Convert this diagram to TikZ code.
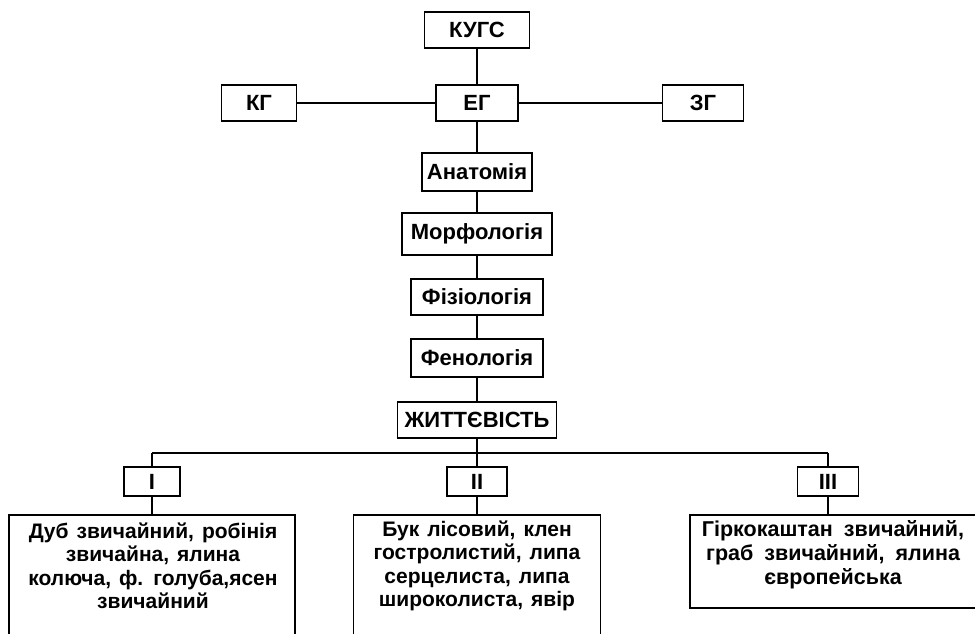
\documentclass[tikz,border=0pt]{standalone}
\usepackage{fontspec}
\setmainfont{Liberation Sans}
\newcommand\mywidesp{\spaceskip=8pt plus 1pt minus 1pt\relax}
\newcommand\mywidersp{\spaceskip=11pt plus 1pt minus 1pt\relax}
\begin{document}
\begin{tikzpicture}[x=1pt,y=-1pt,
  line width=1.7pt,
  box/.style={draw, line width=1.7pt, inner sep=0pt, font=\fontsize{22}{24}\selectfont\bfseries},
  bigbox/.style={draw, line width=1.7pt, inner sep=0pt, anchor=north},
  bigtext/.style={align=center, inner sep=0pt, font=\fontsize{21}{23.5}\selectfont\bfseries\mywidesp},
  conn/.style={line width=1.7pt}]
\clip (0,0) rectangle (975,633);
\fill[white] (0,0) rectangle (975,633);
% top level
\node[box, minimum width=105, minimum height=36] (kugs) at (477,30) {КУГС};
\node[box, minimum width=75, minimum height=36] (kg) at (259,103) {КГ};
\node[box, minimum width=82, minimum height=36] (eg) at (477,103) {ЕГ};
\node[box, minimum width=81, minimum height=36] (zg) at (703,103) {ЗГ};
% column
\node[box, minimum width=110, minimum height=38] (anat) at (477,172) {Анатомія};
\node[box, minimum width=150, minimum height=42] (morf) at (477,234) {Морфологія};
\node[box, minimum width=132, minimum height=36] (fiz) at (477,297) {Фізіологія};
\node[box, minimum width=132, minimum height=38] (fen) at (477,358) {Фенологія};
\node[box, minimum width=159, minimum height=36] (zh) at (477,420) {ЖИТТЄВІСТЬ};
% groups
\coordinate (barL) at (152,453);
\coordinate (barR) at (828,453);
\node[box, minimum width=56, minimum height=29] (r1) at (152,481.5) {I};
\node[box, minimum width=60, minimum height=29] (r2) at (477,481.5) {II};
\node[box, minimum width=61, minimum height=29] (r3) at (828,481.5) {III};
% bottom boxes
\node[bigbox, minimum width=286, minimum height=150] (b1) at (152,514) {};
\node[bigbox, minimum width=247, minimum height=150] (b2) at (477,514) {};
\node[bigbox, minimum width=290, minimum height=93] (b3) at (835,514) {};
\node[bigtext] (t1) at (153,566) {Дуб звичайний, робінія\\звичайна, ялина\\колюча, ф. голуба,ясен\\звичайний};
\node[bigtext] (t2) at (477,566) {Бук лісовий, клен\\гостролистий, липа\\серцелиста, липа\\широколиста, явір};
\node[bigtext, font=\fontsize{21.5}{24}\selectfont\bfseries\mywidersp] (t3) at (833,555) {Гіркокаштан звичайний,\\граб звичайний, ялина\\європейська};
% connectors
\draw[conn] (kugs) -- (eg);
\draw[conn] (kg) -- (eg);
\draw[conn] (eg) -- (zg);
\draw[conn] (eg) -- (anat);
\draw[conn] (anat) -- (morf);
\draw[conn] (morf) -- (fiz);
\draw[conn] (fiz) -- (fen);
\draw[conn] (fen) -- (zh);
\draw[conn] (zh) -- (r2);
\draw[conn] (barL) -- (barR);
\draw[conn] (barL) -- (r1);
\draw[conn] (barR) -- (r3);
\draw[conn] (r1) -- (b1);
\draw[conn] (r2) -- (b2);
\draw[conn] (r3) -- (b3.north -| r3);
\end{tikzpicture}
\end{document}
